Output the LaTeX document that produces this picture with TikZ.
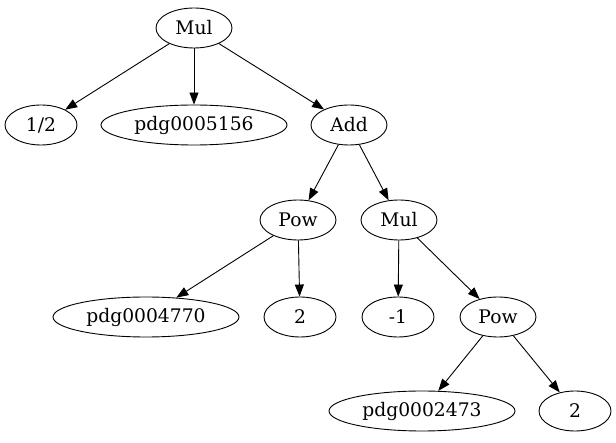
\documentclass[tikz,border=0pt]{standalone}
\usepackage{fontspec}
\setmainfont{DejaVu Serif}
\usetikzlibrary{shapes.geometric, arrows.meta}

\begin{document}
\begin{tikzpicture}[
  x=1pt, y=-1pt,
  >={Triangle[length=12pt, width=9pt]},
  every node/.style={font=\fontsize{18.7}{21}\selectfont},
  tnode/.style={draw, ellipse, line width=0.9pt, inner sep=0pt, minimum height=40pt},
  num/.style={tnode, minimum width=72pt},
  op/.style={tnode, minimum width=76pt},
  var/.style={tnode, minimum width=186pt},
  edge/.style={->, line width=0.9pt}
]
\useasboundingbox (0,0) rectangle (616,443);

% top level
\node[op] (mul1) at (194,28) {Mul};
\node[num] (half) at (41,125) {1/2};
\node[var] (pdg1) at (194,125) {pdg0005156};
\node[op] (add) at (349,125) {Add};

% under Add
\node[op] (pow1) at (298,220) {Pow};
\node[op] (mul2) at (399,220) {Mul};

% third row
\node[var] (pdg2) at (146,317) {pdg0004770};
\node[num] (two1) at (300,317) {2};
\node[num] (neg) at (398,317) {-1};
\node[op] (pow2) at (498,317) {Pow};

% bottom
\node[var] (pdg3) at (422,411) {pdg0002473};
\node[num] (two2) at (575,411) {2};

% Edges
\draw[edge] (mul1) -- (half);
\draw[edge] (mul1) -- (pdg1);
\draw[edge] (mul1) -- (add);
\draw[edge] (add) -- (pow1);
\draw[edge] (add) -- (mul2);
\draw[edge] (pow1) -- (pdg2);
\draw[edge] (pow1) -- (two1);
\draw[edge] (mul2) -- (neg);
\draw[edge] (mul2) -- (pow2);
\draw[edge] (pow2) -- (pdg3);
\draw[edge] (pow2) -- (two2);

\end{tikzpicture}
\end{document}
